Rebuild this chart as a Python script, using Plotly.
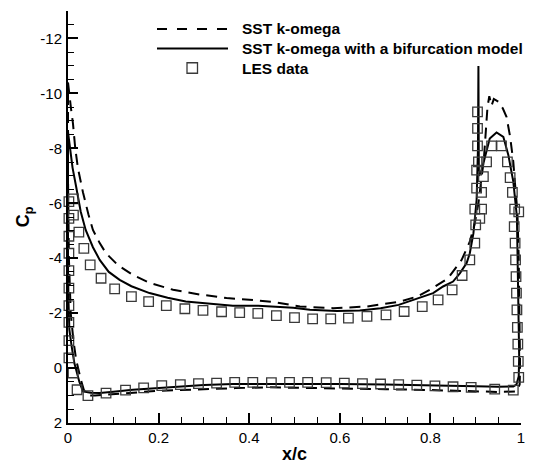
import plotly.graph_objects as go

# ---- SST k-omega (dashed) : closed loop around the airfoil ----
sst_x = [0.0, 0.003, 0.007, 0.011, 0.016, 0.022, 0.033, 0.045, 0.055, 0.07, 0.084, 0.11, 0.143,
         0.18, 0.232, 0.29, 0.35, 0.42, 0.46, 0.512, 0.585, 0.659, 0.733, 0.77, 0.799, 0.839,
         0.869, 0.887, 0.898, 0.906, 0.912, 0.918, 0.921, 0.923, 0.926, 0.93, 0.935, 0.94, 0.95,
         0.96, 0.968, 0.976, 0.983, 0.987, 0.992, 0.995, 0.997, 0.998, 0.997, 0.99, 0.95, 0.9,
         0.8, 0.7, 0.6, 0.5, 0.44, 0.37, 0.3, 0.246, 0.2, 0.165, 0.12, 0.092, 0.06, 0.047,
         0.035, 0.028, 0.022, 0.018, 0.012, 0.006, 0.002, 0.0, 0.0]
sst_cp = [-10.4, -9.9, -9.4, -8.9, -8.0, -7.27, -6.4, -5.6, -5.03, -4.55, -4.18, -3.75, -3.39,
          -3.1, -2.85, -2.68, -2.55, -2.46, -2.39, -2.24, -2.18, -2.24, -2.42, -2.6, -2.85, -3.27,
          -3.94, -4.6, -5.27, -6.0, -6.8, -7.6, -8.3, -8.9, -9.5, -9.9, -9.55, -9.8, -9.7,
          -9.45, -9.15, -8.42, -7.51, -6.67, -5.7, -4.0, -2.0, 0.0, 0.6, 0.85, 0.87, 0.84,
          0.8, 0.77, 0.74, 0.72, 0.7, 0.73, 0.76, 0.79, 0.83, 0.87, 0.93, 0.97, 1.0, 1.0,
          0.8, 0.4, 0.0, -0.3, -1.0, -2.0, -4.0, -7.0, -10.4]

# ---- SST k-omega with a bifurcation model (solid) ----
bif_x = [0.0, 0.005, 0.01, 0.018, 0.028, 0.039, 0.055, 0.07, 0.09, 0.114, 0.14, 0.18, 0.22,
         0.26, 0.31, 0.364, 0.42, 0.467, 0.497, 0.534, 0.593, 0.644, 0.69, 0.73, 0.777, 0.806,
         0.828, 0.85, 0.865, 0.88, 0.887, 0.895, 0.902, 0.905, 0.906, 0.907, 0.913, 0.921,
         0.931, 0.946, 0.961, 0.972, 0.983, 0.991, 0.994, 0.996, 0.995, 0.99, 0.983, 0.95,
         0.9, 0.85, 0.8, 0.7, 0.6, 0.5, 0.4, 0.364, 0.3, 0.246, 0.2, 0.143, 0.1, 0.07, 0.05,
         0.033, 0.025, 0.014, 0.008, 0.003, 0.001, 0.0, 0.0, 0.0]
bif_cp = [-8.6, -7.9, -7.3, -6.6, -5.7, -5.03, -4.4, -3.94, -3.5, -3.21, -2.98, -2.73, -2.56,
          -2.42, -2.34, -2.27, -2.27, -2.22, -2.2, -2.12, -2.08, -2.1, -2.18, -2.3, -2.55, -2.73,
          -2.97, -3.15, -3.45, -3.82, -4.18, -4.91, -6.12, -8.0, -11.0, -7.0, -7.2, -7.76,
          -8.36, -8.58, -8.42, -7.76, -6.79, -5.5, -2.85, -0.42, 0.3, 0.6, 0.67, 0.68,
          0.66, 0.64, 0.62, 0.6, 0.58, 0.57, 0.57, 0.58, 0.62, 0.67, 0.72, 0.79, 0.86, 0.91, 0.9,
          0.85, 0.5, -0.18, -0.8, -1.4, -2.5, -3.8, -6.0, -8.6]

# ---- LES data (open squares) ----
les_x = [0.002, 0.002, 0.002, 0.002, 0.002, 0.002, 0.002, 0.002, 0.002, 0.002,
         0.012, 0.012, 0.024, 0.035, 0.049, 0.073, 0.103, 0.14, 0.178, 0.217, 0.258, 0.298,
         0.339, 0.379, 0.419, 0.46, 0.5, 0.54, 0.58, 0.619, 0.66, 0.702, 0.742, 0.782, 0.817,
         0.848, 0.87, 0.887, 0.898, 0.9, 0.909, 0.898, 0.902, 0.902, 0.904, 0.906, 0.904, 0.904,
         0.913, 0.913, 0.917, 0.924, 0.935, 0.957, 0.97, 0.976, 0.981, 0.986,
         0.985, 0.987, 0.988, 0.989, 0.99, 0.991, 0.992, 0.993, 0.994, 0.995, 0.995,
         0.983, 0.942, 0.89, 0.85, 0.81, 0.77, 0.73, 0.69, 0.65, 0.61, 0.57, 0.529, 0.489,
         0.449, 0.408, 0.368, 0.328, 0.288, 0.248, 0.207, 0.167, 0.127, 0.084, 0.044, 0.02, 0.011]
les_cp = [-0.37, -1.0, -1.66, -2.27, -2.91, -3.55, -4.18, -4.8, -5.45, -6.06,
          -6.16, -5.57, -4.95, -4.36, -3.76, -3.27, -2.88, -2.6, -2.42, -2.27, -2.16, -2.1,
          -2.05, -2.02, -1.99, -1.91, -1.84, -1.79, -1.79, -1.82, -1.88, -1.94, -2.06, -2.24, -2.48,
          -2.85, -3.37, -3.94, -4.55, -5.21, -5.45, -5.79, -6.55, -7.21, -8.09, -7.51, -8.73, -9.33,
          -5.79, -6.4, -6.97, -7.51, -8.09, -8.09, -7.51, -6.93, -6.4, -5.79,
          -5.15, -4.55, -3.94, -3.33, -2.73, -2.12, -1.48, -0.87, -0.24, 0.34, -5.69,
          0.8, 0.77, 0.7, 0.68, 0.65, 0.62, 0.6, 0.58, 0.57, 0.55, 0.53, 0.52, 0.52,
          0.53, 0.52, 0.52, 0.55, 0.57, 0.6, 0.64, 0.72, 0.8, 0.91, 1.0, 0.79, 0.18]

# ---- axis ticks ----
x_tick_vals = [0, 0.2, 0.4, 0.6, 0.8, 1.0]
x_tick_text = ["0", "0.2", "0.4", "0.6", "0.8", "1"]
y_tick_vals = [2, 0, -2, -4, -6, -8, -10, -12]
y_tick_text = ["2", "0", "-2", "-4", "-6", "-8", "-10", "-12"]

series_names = ["SST k-omega", "SST k-omega with a bifurcation model", "LES data"]

FONT = "Arial, Liberation Sans, sans-serif"

fig = go.Figure()
fig.add_trace(go.Scatter(x=sst_x, y=sst_cp, mode="lines", name=series_names[0],
                         line=dict(color="black", width=2, dash="11px,7px"), showlegend=False))
fig.add_trace(go.Scatter(x=bif_x, y=bif_cp, mode="lines", name=series_names[1],
                         line=dict(color="black", width=2), showlegend=False))
fig.add_trace(go.Scatter(x=les_x, y=les_cp, mode="markers", name=series_names[2], cliponaxis=False,
                         marker=dict(symbol="square-open", size=9.5, color="#3a3a3a",
                                     line=dict(width=1.3, color="#3a3a3a")),
                         showlegend=False))

# manual legend (paper coordinates)
L, R, T, B = 68, 12, 11, 49
W, H = 533, 472
pw, ph = W - L - R, H - T - B

def px(xp):
    return (xp - L) / pw

def py(yp):
    return (H - B - yp) / ph

rows = [29, 48.5, 68]
shapes = [
    dict(type="line", xref="paper", yref="paper", x0=px(157), x1=px(228), y0=py(rows[0]), y1=py(rows[0]),
         line=dict(color="black", width=2, dash="10px,10px")),
    dict(type="line", xref="paper", yref="paper", x0=px(157), x1=px(228), y0=py(rows[1]), y1=py(rows[1]),
         line=dict(color="black", width=2)),
    dict(type="rect", xref="paper", yref="paper", x0=px(187), x1=px(197.5), y0=py(rows[2] - 5.25), y1=py(rows[2] + 5.25),
         line=dict(color="#3a3a3a", width=1.3)),
]
annotations = []
for name, r in zip(series_names, rows):
    annotations.append(dict(text="<b>%s</b>" % name, xref="paper", yref="paper", x=px(240), y=py(r),
                            xanchor="left", yanchor="middle", showarrow=False,
                            font=dict(family=FONT, size=15.5, color="black")))

fig.update_layout(
    width=W, height=H,
    margin=dict(l=L, r=R, t=T, b=B, pad=0, autoexpand=False),
    paper_bgcolor="white", plot_bgcolor="white",
    font=dict(family=FONT, size=15, color="black"),
    shapes=shapes, annotations=annotations,
    showlegend=False,
)
fig.update_xaxes(range=[0, 1], automargin=False, showgrid=False, zeroline=False, showline=True,
                 linecolor="black", linewidth=2,
                 ticks="inside", ticklen=10, tickwidth=1.5, tickcolor="black",
                 tickvals=x_tick_vals, ticktext=x_tick_text, tickfont=dict(size=15),
                 minor=dict(ticks="inside", ticklen=6, tickwidth=1.2, tickcolor="black", dtick=0.05, tick0=0, showgrid=False),
                 title=dict(text="<b>x/c</b>", font=dict(size=18), standoff=2))
fig.update_yaxes(range=[2, -13], automargin=False, showgrid=False, zeroline=False, showline=True,
                 linecolor="black", linewidth=2,
                 ticks="inside", ticklen=10, tickwidth=1.5, tickcolor="black", ticklabelstandoff=1,
                 tickvals=y_tick_vals, ticktext=y_tick_text, tickfont=dict(size=15),
                 minor=dict(ticks="inside", ticklen=6, tickwidth=1.2, tickcolor="black", dtick=0.5, tick0=0, showgrid=False),
                 title=dict(text="<b>C<sub>p</sub></b>", font=dict(size=18), standoff=6))

fig.write_html("out.html", config={"displayModeBar": False},
               post_script="document.body.style.margin='0px';")
